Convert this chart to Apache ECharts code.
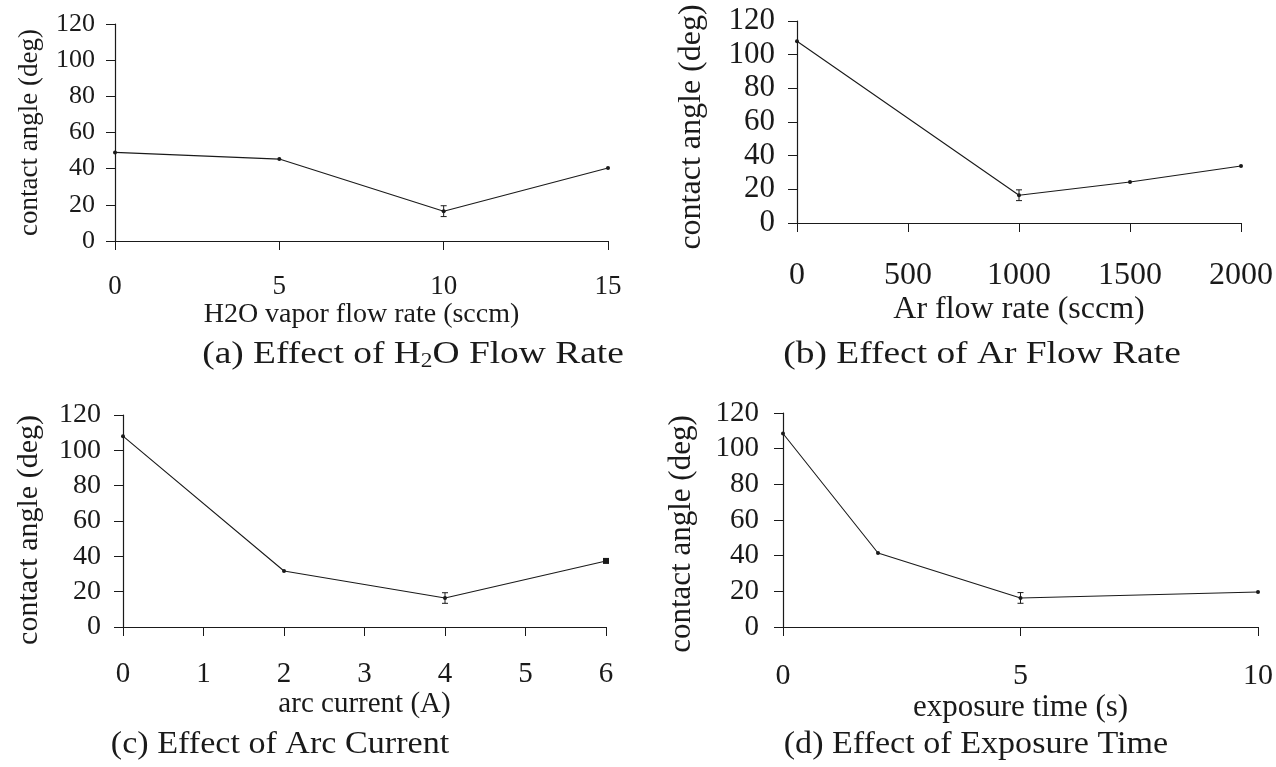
<!DOCTYPE html>
<html><head><meta charset="utf-8">
<script src="https://cdn.jsdelivr.net/npm/echarts@6/dist/echarts.min.js"></script>
<style>html,body{margin:0;padding:0;background:#fff}#c{width:1276px;height:767px}</style>
</head><body><div id="c"></div>
<script>
// Panel (a) H2O flow rate
const aX = [0, 5, 10, 15];
const aY = [49, 45.3, 16.5, 40.4];
const aErr = [0, 0, 3, 0];
// Panel (b) Ar flow rate
const bX = [0, 1000, 1500, 2000];
const bY = [108, 16.5, 24.4, 33.9];
const bErr = [0, 3.2, 0, 0];
// Panel (c) arc current
const cX = [0, 2, 4, 6];
const cY = [108, 31.7, 16.4, 37.4];
const cErr = [0, 0, 3, 0];
// Panel (d) exposure time
const dX = [0, 2, 5, 10];
const dY = [108.5, 41.5, 16.3, 19.6];
const dErr = [0, 0, 3, 0];

const yTicks = [0, 20, 40, 60, 80, 100, 120];
const yName = 'contact angle (deg)';
const xNames = ['H2O vapor flow rate (sccm)', 'Ar flow rate (sccm)', 'arc current (A)', 'exposure time (s)'];
const captions = ['(a) Effect of H{s|2}O Flow Rate', '(b) Effect of Ar Flow Rate', '(c) Effect of Arc Current', '(d) Effect of Exposure Time'];

const FONT = '"Liberation Serif", "Times New Roman", serif';
const INK = '#1a1a1a';

const panels = [
  {x: aX, y: aY, e: aErr, grid: {left: 115, top: 24, width: 493, height: 217}, xmax: 15, xint: 5,
   xFs: 27, yFs: 26, yNameFs: 27, xNameFs: 28, yNameGap: 72, xMargin: 32, xNameGap: 53, yMargin: 20, yNamePad: 0, symLast: 'circle',
   cap: {x: 413, y: 355, fs: 32, sx: 1.17}},
  {x: bX, y: bY, e: bErr, grid: {left: 797, top: 21, width: 445, height: 202}, xmax: 2000, xint: 500,
   xFs: 32, yFs: 31, yNameFs: 32, xNameFs: 32, yNameGap: 89, xMargin: 37, xNameGap: 71, yMargin: 22, yNamePad: 10, symLast: 'circle',
   cap: {x: 982, y: 355, fs: 32, sx: 1.17}},
  {x: cX, y: cY, e: cErr, grid: {left: 123, top: 415, width: 483, height: 212}, xmax: 6, xint: 1,
   xFs: 29, yFs: 28, yNameFs: 30, xNameFs: 29, yNameGap: 79, xMargin: 33, xNameGap: 52, yMargin: 22, yNamePad: 18, symLast: 'rect',
   cap: {x: 280, y: 745, fs: 31, sx: 1.1}},
  {x: dX, y: dY, e: dErr, grid: {left: 783, top: 413, width: 476, height: 214}, xmax: 10, xint: 5,
   xFs: 30, yFs: 29, yNameFs: 31, xNameFs: 31, yNameGap: 86, xMargin: 34, xNameGap: 50, yMargin: 24, yNamePad: 28, symLast: 'circle',
   cap: {x: 976, y: 745, fs: 31, sx: 1.1}}
];

const grids = [], xAxes = [], yAxes = [], series = [], graphics = [];

panels.forEach((p, i) => {
  grids.push(Object.assign({containLabel: false}, p.grid));
  const axisLine = {show: true, onZero: false, lineStyle: {color: INK, width: 1.2}};
  xAxes.push({
    type: 'value', gridIndex: i, min: 0, max: p.xmax, interval: p.xint,
    axisLine, axisTick: {show: true, length: 9, lineStyle: {color: INK}},
    splitLine: {show: false},
    axisLabel: {color: INK, fontFamily: FONT, fontSize: p.xFs, margin: p.xMargin, formatter: v => String(v)},
    name: xNames[i], nameLocation: 'middle', nameGap: p.xNameGap,
    nameTextStyle: {color: INK, fontFamily: FONT, fontSize: p.xNameFs}
  });
  yAxes.push({
    type: 'value', gridIndex: i, min: 0, max: 120, interval: 20,
    axisLine, axisTick: {show: true, length: 9, lineStyle: {color: INK}},
    splitLine: {show: false},
    axisLabel: {color: INK, fontFamily: FONT, fontSize: p.yFs, margin: p.yMargin,
      formatter: v => yTicks.includes(v) ? String(v) : ''},
    name: yName, nameLocation: 'middle', nameRotate: 90, nameGap: p.yNameGap,
    nameTextStyle: {color: INK, fontFamily: FONT, fontSize: p.yNameFs, padding: [0, p.yNamePad, 0, 0]}
  });
  const pts = p.x.map((xv, k) => {
    const d = {value: [xv, p.y[k]]};
    if (k === p.x.length - 1 && p.symLast === 'rect') { d.symbol = 'rect'; d.symbolSize = 6; }
    return d;
  });
  series.push({
    type: 'line', xAxisIndex: i, yAxisIndex: i, data: pts,
    symbol: 'circle', symbolSize: 4, showSymbol: true,
    lineStyle: {color: INK, width: 1.1}, itemStyle: {color: INK},
    animation: false, silent: true
  });
  const errData = [];
  p.x.forEach((xv, k) => { if (p.e[k] > 0) errData.push([xv, p.y[k] - p.e[k], p.y[k] + p.e[k]]); });
  series.push({
    type: 'custom', xAxisIndex: i, yAxisIndex: i, data: errData, animation: false, silent: true,
    renderItem: (params, api) => {
      const xv = api.value(0);
      const lo = api.coord([xv, api.value(1)]);
      const hi = api.coord([xv, api.value(2)]);
      const s = {stroke: INK, lineWidth: 1};
      return {type: 'group', children: [
        {type: 'line', shape: {x1: lo[0], y1: lo[1], x2: hi[0], y2: hi[1]}, style: s},
        {type: 'line', shape: {x1: lo[0] - 3, y1: lo[1], x2: lo[0] + 3, y2: lo[1]}, style: s},
        {type: 'line', shape: {x1: hi[0] - 3, y1: hi[1], x2: hi[0] + 3, y2: hi[1]}, style: s}
      ]};
    }
  });
  graphics.push({
    type: 'text', x: p.cap.x, y: p.cap.y, scaleX: p.cap.sx, silent: true,
    style: {
      text: captions[i], fill: INK, fontFamily: FONT, fontSize: p.cap.fs,
      align: 'center', verticalAlign: 'middle',
      rich: {s: {fontFamily: FONT, fontSize: Math.round(p.cap.fs * 0.62), fill: INK, verticalAlign: 'bottom', padding: [Math.round(p.cap.fs * 0.42), 0, 0, 0]}}
    }
  });
});

const chart = echarts.init(document.getElementById('c'), null, {renderer: 'canvas'});
chart.setOption({
  backgroundColor: '#fff', animation: false,
  grid: grids, xAxis: xAxes, yAxis: yAxes, series, graphic: graphics
});
</script></body></html>
